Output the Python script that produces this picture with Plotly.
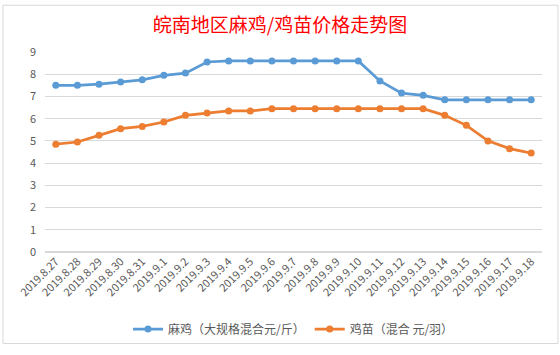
import plotly.graph_objects as go

dates = ["2019.8.27", "2019.8.28", "2019.8.29", "2019.8.30", "2019.8.31",
         "2019.9.1", "2019.9.2", "2019.9.3", "2019.9.4", "2019.9.5", "2019.9.6",
         "2019.9.7", "2019.9.8", "2019.9.9", "2019.9.10", "2019.9.11", "2019.9.12",
         "2019.9.13", "2019.9.14", "2019.9.15", "2019.9.16", "2019.9.17", "2019.9.18"]
maji = [7.5, 7.5, 7.55, 7.65, 7.75, 7.95, 8.05, 8.55, 8.6, 8.6, 8.6,
        8.6, 8.6, 8.6, 8.6, 7.7, 7.15, 7.05, 6.85, 6.85, 6.85, 6.85, 6.85]
jimiao = [4.85, 4.95, 5.25, 5.55, 5.65, 5.85, 6.15, 6.25, 6.35, 6.35, 6.45,
          6.45, 6.45, 6.45, 6.45, 6.45, 6.45, 6.45, 6.15, 5.7, 5.0, 4.65, 4.45]
series_names = ["麻鸡（大规格混合元/斤）", "鸡苗（混合 元/羽）"]
y_ticks = list(range(0, 10))

font_family = "Noto Sans CJK SC, Noto Sans, sans-serif"

fig = go.Figure()
fig.add_trace(go.Scatter(x=dates, y=maji, mode="lines+markers", name=series_names[0],
                         line=dict(color="#5B9BD5", width=2.75),
                         marker=dict(color="#5B9BD5", size=7)))
fig.add_trace(go.Scatter(x=dates, y=jimiao, mode="lines+markers", name=series_names[1],
                         line=dict(color="#ED7D31", width=2.75),
                         marker=dict(color="#ED7D31", size=7)))

fig.update_layout(
    width=560, height=355,
    margin=dict(l=45, r=18, t=52, b=97),
    paper_bgcolor="white", plot_bgcolor="white",
    font=dict(family=font_family, color="#595959", size=11),
    title=dict(text="皖南地区麻鸡/鸡苗价格走势图", x=0.5, xanchor="center",
               y=1 - 25 / 355, yanchor="middle",
               font=dict(family=font_family, size=19, color="#FF0000")),
    legend=dict(orientation="h", x=0.5, xanchor="center", y=-0.385, yanchor="middle",
                font=dict(size=12, color="#595959"), bgcolor="rgba(0,0,0,0)"),
    shapes=[dict(type="rect", xref="paper", yref="paper",
                 x0=-42 / 497, x1=1 + 16 / 497, y0=-94 / 205.4, y1=1 + 48 / 205.4,
                 line=dict(color="#D9D9D9", width=1))],
)
fig.update_xaxes(type="category", range=[-0.5, len(dates) - 0.5], tickangle=-45,
                 showgrid=False, showline=False, ticks="",
                 tickfont=dict(size=11, color="#595959"))
fig.update_yaxes(range=[0, 9], tickvals=y_ticks, showgrid=True, gridcolor="#D9D9D9",
                 gridwidth=1, zeroline=True, zerolinecolor="#D9D9D9", showline=False,
                 ticks="", ticklabelstandoff=8, tickfont=dict(size=11, color="#595959"))

fig.write_html("out.html", config={"displayModeBar": False},
               post_script="document.body.style.margin='0';")
